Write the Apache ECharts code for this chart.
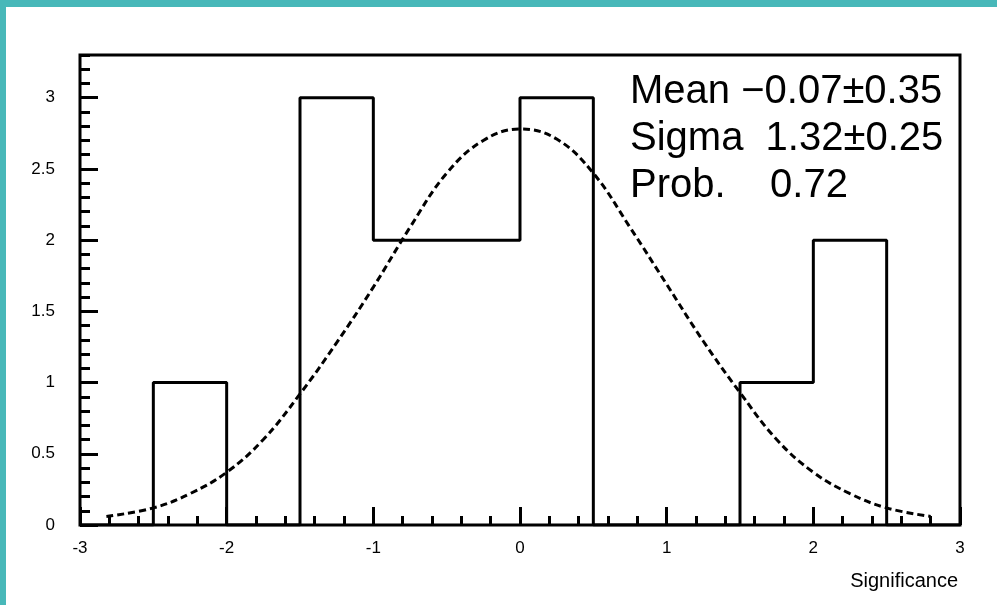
<!DOCTYPE html>
<html>
<head>
<meta charset="utf-8">
<script src="https://cdn.jsdelivr.net/npm/echarts@6/dist/echarts.min.js"></script>
<style>
html, body { margin: 0; padding: 0; background: #fff; }
#chart { width: 997px; height: 605px; }
</style>
</head>
<body>
<div id="chart"></div>
<script>
// histogram bins (width 0.5) and their counts
var binEdges = [-3, -2.5, -2, -1.5, -1, -0.5, 0, 0.5, 1, 1.5, 2, 2.5, 3];
var counts = [0, 1, 0, 3, 2, 2, 3, 0, 0, 1, 2, 0];

// fitted gaussian
var fitX = [-2.82, -2.5, -2.25, -2.0, -1.75, -1.5, -1.25, -1.0, -0.75, -0.5, -0.25, 0, 0.25, 0.5, 0.75, 1.0, 1.25, 1.5, 1.75, 2.0, 2.25, 2.5, 2.8];
var fitY = [0.06, 0.12, 0.22, 0.37, 0.6, 0.92, 1.28, 1.67, 2.09, 2.47, 2.7, 2.78, 2.71, 2.47, 2.09, 1.69, 1.29, 0.93, 0.6, 0.37, 0.22, 0.12, 0.06];

var statLines = ['Mean \u22120.07\u00b10.35', 'Sigma  1.32\u00b10.25', 'Prob.    0.72'];
var xTitle = 'Significance';

var histData = [];
for (var i = 0; i < counts.length; i++) {
    histData.push([binEdges[i], counts[i]]);
}
histData.push([binEdges[binEdges.length - 1], 0]);

var fitData = fitX.map(function (x, i) { return [x, fitY[i]]; });

var FONT = '"Liberation Sans", Arial, Helvetica, sans-serif';
var teal = '#48b8b9';

var statGraphics = statLines.map(function (t, i) {
    return {
        type: 'text', left: 630, top: 72 + i * 47, z: 10,
        style: { text: t, font: '40px ' + FONT, fill: '#000' }
    };
});

var chart = echarts.init(document.getElementById('chart'));
var option = {
    animation: false,
    backgroundColor: '#fff',
    grid: {
        left: 80, right: 37, top: 55, bottom: 80,
        show: true, borderColor: '#000', borderWidth: 3, backgroundColor: 'transparent'
    },
    xAxis: [{
        type: 'value', min: -3, max: 3, interval: 1, position: 'bottom',
        axisLine: { show: false, onZero: false },
        axisTick: { show: true, inside: true, length: 18, lineStyle: { color: '#000', width: 3 } },
        axisLabel: {
            margin: 15, color: '#000', fontSize: 17, fontFamily: FONT,
            formatter: function (v) { return String(v); }
        },
        splitLine: { show: false },
        name: xTitle, nameLocation: 'end', nameGap: 0,
        nameTextStyle: {
            color: '#000', fontSize: 20, fontFamily: FONT,
            align: 'right', verticalAlign: 'top', padding: [46, 2, 0, 0]
        }
    }, {
        type: 'value', min: -3, max: 3, interval: 0.2, position: 'bottom',
        axisLine: { show: false, onZero: false },
        axisTick: { show: true, inside: true, length: 9, lineStyle: { color: '#000', width: 3 } },
        axisLabel: { show: false },
        splitLine: { show: false }
    }],
    yAxis: [{
        type: 'value', min: 0, max: 3.3, interval: 0.5, position: 'left',
        axisLine: { show: false, onZero: false },
        axisTick: { show: true, inside: true, length: 18, lineStyle: { color: '#000', width: 3 } },
        axisLabel: { margin: 25, color: '#000', fontSize: 17, fontFamily: FONT, showMaxLabel: false },
        splitLine: { show: false }
    }, {
        type: 'value', min: 0, max: 3.3, interval: 0.1, position: 'left',
        axisLine: { show: false, onZero: false },
        axisTick: { show: true, inside: true, length: 10, lineStyle: { color: '#000', width: 3 } },
        axisLabel: { show: false },
        splitLine: { show: false }
    }],
    series: [{
        type: 'line', xAxisIndex: 0, yAxisIndex: 0,
        data: histData, step: 'end', showSymbol: false, symbol: 'none',
        lineStyle: { color: '#000', width: 3 },
        z: 3
    }, {
        type: 'line', xAxisIndex: 0, yAxisIndex: 0,
        data: fitData, smooth: 0.4, showSymbol: false, symbol: 'none',
        lineStyle: { color: '#000', width: 3, type: [7, 4] },
        z: 4
    }],
    graphic: [
        { type: 'rect', shape: { x: 0, y: 0, width: 997, height: 7 }, style: { fill: teal }, z: 10 },
        { type: 'rect', shape: { x: 0, y: 0, width: 6, height: 605 }, style: { fill: teal }, z: 10 }
    ].concat(statGraphics)
};
chart.setOption(option);
</script>
</body>
</html>
